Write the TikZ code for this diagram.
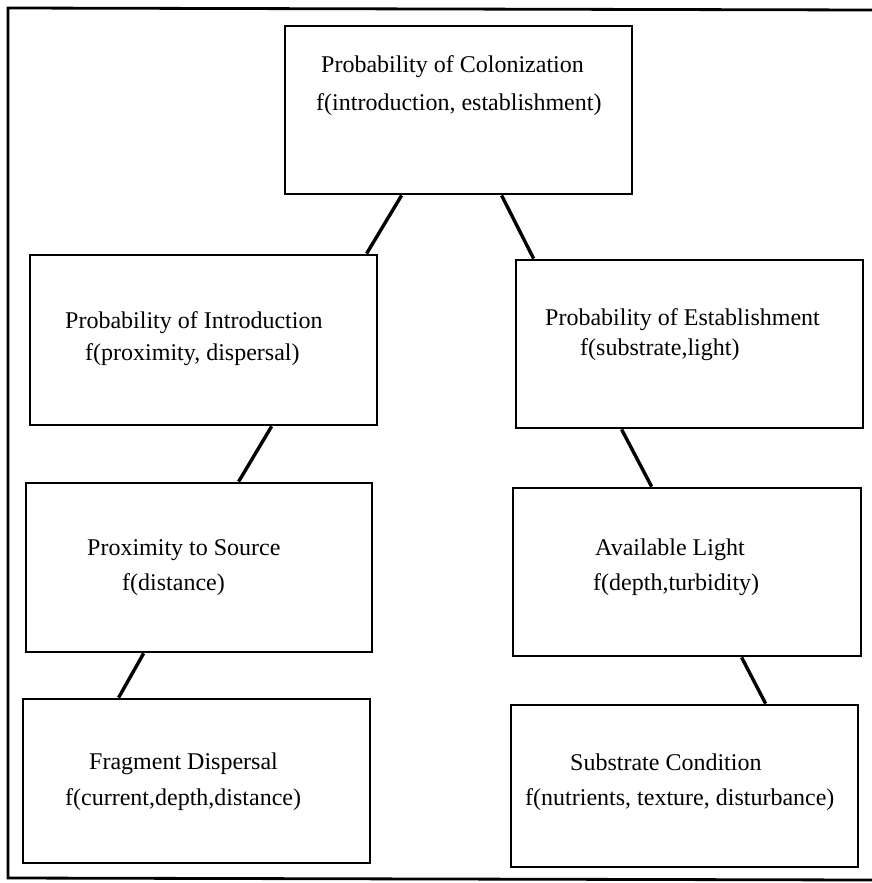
\documentclass[tikz,border=0pt]{standalone}
\usepackage{fontspec}
\setmainfont{Liberation Serif}
\begin{document}
\begin{tikzpicture}[x=1pt,y=-1pt,
  box/.style={draw=black, line width=2.8pt, rectangle, minimum width=347pt, minimum height=168pt, inner sep=0pt},
  lbl/.style={anchor=base west, inner sep=0pt, font=\fontsize{24}{28}\selectfont},
  link/.style={draw=black, line width=3.4pt},
  frame/.style={draw=black, line width=2.8pt}]
\useasboundingbox (0,0) rectangle (872,883);
% outer frame (open at right edge)
\draw[frame] (872,10) -- (8,8) -- (8,878) -- (872,880);
% boxes
\node[box] (top) at (458.5,110) {};
\node[box, minimum height=170pt] (intro) at (203.5,340) {};
\node[box] (estab) at (689.5,344) {};
\node[box, minimum width=346pt, minimum height=169pt] (prox) at (199,567.5) {};
\node[box, minimum width=348pt] (light) at (687,572) {};
\node[box, minimum height=164pt] (frag) at (196.5,781) {};
\node[box, minimum height=162pt] (sub) at (684.5,786) {};
% labels
\node[lbl] (top1) at (321,73) {Probability of Colonization};
\node[lbl] (top2) at (316,110) {f(introduction, establishment)};
\node[lbl] (intro1) at (65,328) {Probability of Introduction};
\node[lbl] (intro2) at (85,360) {f(proximity, dispersal)};
\node[lbl] (estab1) at (545,325) {Probability of Establishment};
\node[lbl] (estab2) at (580,355) {f(substrate,light)};
\node[lbl] (prox1) at (87,555) {Proximity to Source};
\node[lbl] (prox2) at (122,590) {f(distance)};
\node[lbl] (light1) at (595,555) {Available Light};
\node[lbl] (light2) at (593,590) {f(depth,turbidity)};
\node[lbl] (frag1) at (89,769) {Fragment Dispersal};
\node[lbl] (frag2) at (65,805) {f(current,depth,distance)};
\node[lbl] (sub1) at (570,770) {Substrate Condition};
\node[lbl] (sub2) at (525,805) {f(nutrients, texture, disturbance)};
% connectors
\draw[link] ([xshift=118pt]top.south west) -- ([xshift=338pt]intro.north west);
\draw[link] ([xshift=218pt]top.south west) -- ([xshift=19pt]estab.north west);
\draw[link] ([xshift=243pt]intro.south west) -- ([xshift=214pt]prox.north west);
\draw[link] ([xshift=107pt]estab.south west) -- ([xshift=140pt]light.north west);
\draw[link] ([xshift=119pt]prox.south west) -- ([xshift=97pt]frag.north west);
\draw[link] ([xshift=230pt]light.south west) -- ([xshift=256pt]sub.north west);
\end{tikzpicture}
\end{document}
